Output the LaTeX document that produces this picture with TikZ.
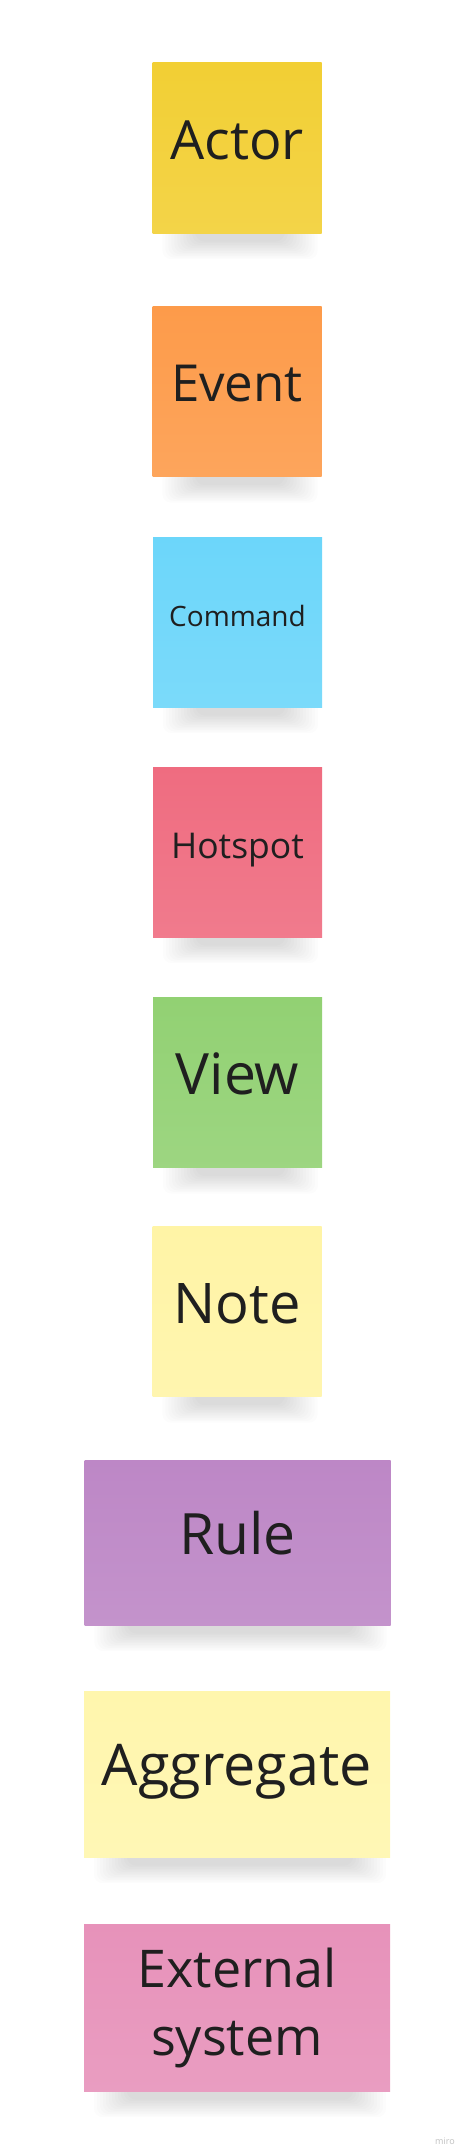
\documentclass[tikz,border=0pt]{standalone}
\usepackage{fontspec}
\setmainfont{Open Sans}
\usetikzlibrary{backgrounds}

\definecolor{actorcol}{HTML}{F2CF34}
\definecolor{eventcol}{HTML}{FD9B4A}
\definecolor{commandcol}{HTML}{6CD6FA}
\definecolor{hotspotcol}{HTML}{EF6C80}
\definecolor{viewcol}{HTML}{92D173}
\definecolor{notecol}{HTML}{FFF4A6}
\definecolor{rulecol}{HTML}{BD87C6}
\definecolor{aggregatecol}{HTML}{FFF6AD}
\definecolor{externalcol}{HTML}{E792BA}

\begin{document}
\begin{tikzpicture}[x=1pt, y=-1pt,
    sticky/.style={rectangle, inner sep=0pt, align=center, text=black!88,
        top color=#1, bottom color=#1!90!white, text depth=16pt},
    square/.style={sticky=#1, minimum width=169pt, minimum height=170pt},
    wide/.style={sticky=#1, minimum width=306pt, minimum height=166pt},
    fsize/.code={\pgfmathsetlengthmacro\capht{0.714*#1}%
        \tikzset{font=\fontsize{#1}{#1}\selectfont, text height=\capht}}]
    % Fix the canvas
    \useasboundingbox (0,0) rectangle (464,2154);
    % Draw the square stickies
    \node[square=actorcol, fsize=54] (actor) at (237,148) {Actor};
    \node[square=eventcol, fsize=51] (event) at (237,391.5) {Event};
    \node[square=commandcol, fsize=28, text depth=11pt] (command) at (237.5,622) {Command};
    \node[square=hotspotcol, fsize=35.5, text depth=12pt] (hotspot) at (237.5,852) {Hotspot};
    \node[square=viewcol, fsize=57] (view) at (237.5,1082.5) {View};
    \node[square=notecol, fsize=56] (note) at (237,1311.5) {Note};
    % Draw the wide stickies
    \node[wide=rulecol, minimum height=165pt, fsize=57, text depth=17pt] (rule) at (237.5,1542.5) {Rule};
    \node[wide=aggregatecol, fsize=57.5, text depth=18pt] (aggregate) at (237,1774) {Aggregate};
    \node[wide=externalcol, minimum height=167pt, text height=, text depth=,
        font=\fontsize{52}{68}\selectfont] (external) at (237,2007.5) {External\\system};
    % Watermark
    \node[text=black!25, font=\fontsize{9}{10}\selectfont, anchor=base] (watermark) at (445,2144) {miro};
    % Soft shadows under the stickies
    \begin{pgfonlayer}{background}
        \foreach \n in {actor,event,command,hotspot,view,note,rule,aggregate,external} {
            \foreach \i in {0,...,11} {
                \fill[black, opacity=0.012, rounded corners=9pt]
                    ([xshift={(10+3*\i)*1pt}, yshift=6pt]\n.south west) rectangle
                    ([xshift={-(4+3*\i)*1pt}, yshift={-(26-1.6*\i)*1pt}]\n.south east);
            }
        }
    \end{pgfonlayer}
\end{tikzpicture}
\end{document}
